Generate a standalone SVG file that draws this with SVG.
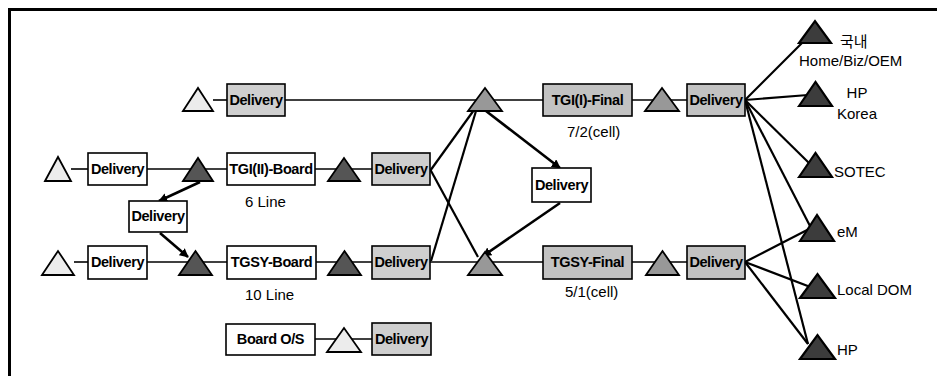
<svg xmlns="http://www.w3.org/2000/svg" width="937" height="376" viewBox="0 0 937 376">
<defs>
<marker id="ah" viewBox="0 0 10 10" refX="9" refY="5" markerWidth="3.5" markerHeight="3.5" orient="auto" markerUnits="strokeWidth">
<path d="M0,0 L10,5 L0,10 z" fill="#000"/>
</marker>
<style>
.frame{fill:none;stroke:#000;stroke-width:3}
.box{stroke:#000;stroke-width:1.6}
.w{fill:#fff}
.g{fill:#cfcfcf}
.gd{fill:#c2c2c2}
.tri{stroke:#000;stroke-width:1.8;stroke-linejoin:miter}
.tl{fill:#ececec}
.tm{fill:#989898}
.td{fill:#555}
.tx{fill:#3c3c3c;stroke-width:2.2}
.bl{font-family:"Liberation Sans",Arial,sans-serif;font-weight:bold;font-size:14.5px;letter-spacing:-0.4px;text-anchor:middle;fill:#000}
.lb{font-family:"Liberation Sans",Arial,sans-serif;font-size:15px;fill:#000}
.ko{font-family:"Liberation Sans","Noto Sans CJK KR",sans-serif;font-size:15px;fill:#000}
.ln{stroke:#000;stroke-width:1.6;fill:none}
.dg{stroke:#000;stroke-width:2.2;fill:none}
.ar{stroke:#000;stroke-width:2.6;fill:none;marker-end:url(#ah)}
</style>
</defs>
<rect width="937" height="376" fill="#fff"/>
<path class="frame" d="M9.5,376 L9.5,9.5 L937,9.5"/>

<g id="connectors">
<!-- row 1 -->
<line class="ln" x1="213" y1="100" x2="227" y2="100"/>
<line class="ln" x1="285" y1="100" x2="543" y2="100"/>
<line class="ln" x1="632" y1="100" x2="687" y2="100"/>
<!-- row 2 -->
<line class="ln" x1="71" y1="169" x2="88" y2="169"/>
<line class="ln" x1="147" y1="169" x2="227" y2="169"/>
<line class="ln" x1="315" y1="169" x2="372" y2="169"/>
<!-- row 3 -->
<line class="ln" x1="74" y1="262" x2="88" y2="262"/>
<line class="ln" x1="147" y1="262" x2="227" y2="262"/>
<line class="ln" x1="316" y1="262" x2="372" y2="262"/>
<line class="ln" x1="430" y1="262" x2="543" y2="262"/>
<line class="ln" x1="632" y1="262" x2="687" y2="262"/>
<!-- row 4 -->
<line class="ln" x1="315" y1="339" x2="372" y2="339"/>
<!-- crossings -->
<line class="dg" x1="430" y1="171" x2="474" y2="110"/>
<line class="dg" x1="476" y1="111" x2="431" y2="261"/>
<line class="dg" x1="430" y1="169" x2="478" y2="257"/>
<!-- arrows -->
<line class="ar" x1="486" y1="111" x2="560" y2="168"/>
<line class="ar" x1="560" y1="203" x2="483" y2="256"/>
<line class="ar" x1="200" y1="182" x2="159" y2="201"/>
<line class="ar" x1="160" y1="233" x2="188" y2="257"/>
<!-- fan from top-right Delivery -->
<line class="dg" x1="745" y1="100" x2="803" y2="42"/>
<line class="dg" x1="745" y1="100" x2="808" y2="95"/>
<line class="dg" x1="745" y1="100" x2="809" y2="163"/>
<line class="dg" x1="745" y1="100" x2="810" y2="226"/>
<line class="dg" x1="745" y1="100" x2="808" y2="344"/>
<!-- fan from bottom-right Delivery -->
<line class="dg" x1="745" y1="262" x2="811" y2="228"/>
<line class="dg" x1="745" y1="262" x2="813" y2="288"/>
<line class="dg" x1="745" y1="262" x2="808" y2="344"/>
</g>

<!-- row 1 -->
<g id="t1a"><polygon class="tri tl" points="183,111 198,88 213,111"/></g>
<g id="d1"><rect class="box g" x="227" y="84" width="58" height="32"/><text class="bl" x="256" y="105">Delivery</text></g>
<g id="t1b"><polygon class="tri tm" points="468,111 485,88 502,111"/></g>
<g id="tgi1"><rect class="box gd" x="543" y="84" width="89" height="32"/><text class="bl" x="587.5" y="105">TGI(I)-Final</text><text class="lb" x="567" y="137">7/2(cell)</text></g>
<g id="t1c"><polygon class="tri tm" points="645,111 662,88 679,111"/></g>
<g id="d1r"><rect class="box gd" x="687" y="84" width="58" height="32"/><text class="bl" x="716" y="105">Delivery</text></g>

<!-- row 2 -->
<g id="t2a"><polygon class="tri tl" points="45,181 58,157 71,181"/></g>
<g id="d2a"><rect class="box w" x="88" y="153" width="59" height="32"/><text class="bl" x="117.5" y="174">Delivery</text></g>
<g id="t2b"><polygon class="tri td" points="183,181 198,158 213,181"/></g>
<g id="tgi2"><rect class="box w" x="227" y="153" width="88" height="32"/><text class="bl" x="271" y="174">TGI(II)-Board</text><text class="lb" x="245" y="207">6 Line</text></g>
<g id="t2c"><polygon class="tri td" points="328,181 344,158 360,181"/></g>
<g id="d2b"><rect class="box g" x="372" y="153" width="58" height="32"/><text class="bl" x="401" y="174">Delivery</text></g>

<!-- middle -->
<g id="dm1"><rect class="box w" x="129" y="201" width="58" height="31"/><text class="bl" x="158" y="221">Delivery</text></g>
<g id="dm2"><rect class="box w" x="532" y="168" width="59" height="34"/><text class="bl" x="561.5" y="190">Delivery</text></g>

<!-- row 3 -->
<g id="t3a"><polygon class="tri tl" points="42,275 58,251 74,275"/></g>
<g id="d3a"><rect class="box w" x="88" y="246" width="59" height="33"/><text class="bl" x="117.5" y="267">Delivery</text></g>
<g id="t3b"><polygon class="tri td" points="179,275 195.5,251 212,275"/></g>
<g id="tgsy"><rect class="box w" x="227" y="246" width="89" height="33"/><text class="bl" x="271.5" y="267">TGSY-Board</text><text class="lb" x="245" y="300">10 Line</text></g>
<g id="t3c"><polygon class="tri td" points="328,275 344.5,251 361,275"/></g>
<g id="d3b"><rect class="box g" x="372" y="246" width="58" height="33"/><text class="bl" x="401" y="267">Delivery</text></g>
<g id="t3d"><polygon class="tri tm" points="468,275 485,252 502,275"/></g>
<g id="tgsyf"><rect class="box gd" x="543" y="246" width="89" height="33"/><text class="bl" x="587.5" y="267">TGSY-Final</text><text class="lb" x="565" y="297">5/1(cell)</text></g>
<g id="t3e"><polygon class="tri tm" points="646,275 662.5,251 679,275"/></g>
<g id="d3r"><rect class="box gd" x="687" y="246" width="58" height="33"/><text class="bl" x="716" y="267">Delivery</text></g>

<!-- row 4 -->
<g id="bos"><rect class="box w" x="226" y="324" width="89" height="31"/><text class="bl" x="270.5" y="344">Board O/S</text></g>
<g id="t4"><polygon class="tri tl" points="327,352 344,328 361,352"/></g>
<g id="d4"><rect class="box g" x="372" y="323" width="59" height="32"/><text class="bl" x="401.5" y="344">Delivery</text></g>

<!-- destinations -->
<g id="dst1"><polygon class="tri tx" points="799,43 815,21 831,43"/><text class="ko" x="840" y="47">국내</text><text class="lb" x="799" y="66">Home/Biz/OEM</text></g>
<g id="dst2"><polygon class="tri tx" points="799,106 815.5,82 832,106"/><text class="lb" x="857" y="98" text-anchor="middle">HP</text><text class="lb" x="857" y="119" text-anchor="middle">Korea</text></g>
<g id="dst3"><polygon class="tri tx" points="799,177 815.5,153 832,177"/><text class="lb" x="834" y="177">SOTEC</text></g>
<g id="dst4"><polygon class="tri tx" points="800,241 817,215 834,241"/><text class="lb" x="837" y="237">eM</text></g>
<g id="dst5"><polygon class="tri tx" points="800,298 817.5,274 835,298"/><text class="lb" x="837" y="295">Local DOM</text></g>
<g id="dst6"><polygon class="tri tx" points="800,359 817.5,335 835,359"/><text class="lb" x="837" y="355">HP</text></g>
</svg>
